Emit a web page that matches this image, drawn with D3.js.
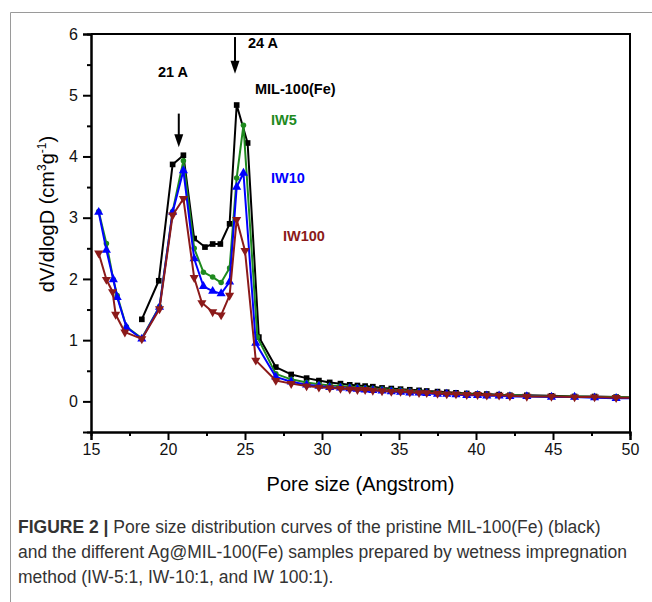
<!DOCTYPE html>
<html lang="en">
<head>
    <meta charset="UTF-8">
    <title>Pore size distribution</title>
    <script src="https://cdn.jsdelivr.net/npm/d3@7"></script>
    <style>
        body { margin: 0; background: #fff; }
        svg text { font-family: "Liberation Sans", Arial, sans-serif; }
    </style>
</head>
<body>
<div id="chart"></div>
<script>
    // tail grid shared by all curves (Angstrom)
    const tailX = [28.0, 29.0, 29.8, 30.5, 31.2, 31.8, 32.3, 32.8, 33.3, 33.9, 34.5, 35.1, 35.7, 36.3, 36.8,
        37.5, 38.1, 38.7, 39.4, 40.1, 40.7, 41.5, 42.2, 43.3, 44.9, 46.4, 47.7, 49.1, 51];

    const milX = [18.3, 19.4, 20.3, 21.0, 21.7, 22.4, 22.9, 23.4, 24.0, 24.46, 25.17, 25.9, 27.0].concat(tailX);
    const milY = [1.34, 1.97, 3.87, 4.02, 2.66, 2.52, 2.57, 2.57, 2.90, 4.84, 4.22, 1.05, 0.56,
        0.44, 0.38, 0.34, 0.31, 0.29, 0.27, 0.26, 0.25, 0.24, 0.22, 0.21, 0.20, 0.19, 0.18, 0.17,
        0.16, 0.15, 0.14, 0.13, 0.12, 0.12, 0.11, 0.10, 0.10, 0.09, 0.08, 0.08, 0.07, 0.06];

    const iw5X = [15.5, 16.0, 16.45, 16.7, 17.3, 18.3, 19.45, 20.3, 21.0, 21.7, 22.3, 22.9, 23.45, 24.0, 24.46, 24.9, 25.8, 27.0].concat(tailX);
    const iw5Y = [3.10, 2.58, 1.99, 1.73, 1.22, 1.03, 1.55, 3.10, 3.93, 2.50, 2.11, 2.03, 1.94, 2.18, 3.65, 4.51, 1.05, 0.45,
        0.36, 0.31, 0.28, 0.26, 0.25, 0.24, 0.23, 0.22, 0.21, 0.20, 0.19, 0.18, 0.17, 0.16, 0.15,
        0.14, 0.13, 0.13, 0.12, 0.11, 0.11, 0.10, 0.10, 0.09, 0.08, 0.08, 0.07, 0.07, 0.06];

    const iw10X = [15.5, 16.0, 16.45, 16.7, 17.3, 18.3, 19.45, 20.3, 21.0, 21.7, 22.3, 22.9, 23.45, 24.0, 24.46, 24.9, 25.7, 27.0].concat(tailX);
    const iw10Y = [3.09, 2.47, 1.99, 1.70, 1.21, 1.02, 1.54, 3.09, 3.77, 2.33, 1.88, 1.80, 1.76, 1.95, 3.50, 3.73, 0.95, 0.40,
        0.32, 0.27, 0.25, 0.23, 0.22, 0.21, 0.20, 0.19, 0.18, 0.17, 0.16, 0.15, 0.14, 0.14, 0.13,
        0.12, 0.12, 0.11, 0.10, 0.10, 0.09, 0.09, 0.08, 0.08, 0.07, 0.07, 0.06, 0.05, 0.05];

    const iw100X = [15.5, 16.0, 16.4, 16.6, 17.2, 18.3, 19.45, 20.3, 21.0, 21.7, 22.2, 22.9, 23.45, 24.0, 24.46, 25.0, 25.7, 27.0].concat(tailX);
    const iw100Y = [2.42, 1.99, 1.79, 1.42, 1.13, 1.02, 1.51, 3.04, 3.31, 2.02, 1.61, 1.46, 1.41, 1.73, 2.97, 2.46, 0.67, 0.34,
        0.29, 0.25, 0.23, 0.22, 0.21, 0.20, 0.19, 0.19, 0.18, 0.17, 0.16, 0.16, 0.15, 0.14, 0.14,
        0.13, 0.12, 0.12, 0.11, 0.11, 0.10, 0.10, 0.09, 0.08, 0.08, 0.07, 0.07, 0.06, 0.06];

    const xTicks = [15, 20, 25, 30, 35, 40, 45, 50];
    const yTicks = [0, 1, 2, 3, 4, 5, 6];

    const series = [
        {name: "MIL-100(Fe)", xs: milX, ys: milY, color: "#000000", shape: d3.symbolSquare, size: 32, rot: 0},
        {name: "IW5", xs: iw5X, ys: iw5Y, color: "#1f8a1f", shape: d3.symbolCircle, size: 24, rot: 0},
        {name: "IW10", xs: iw10X, ys: iw10Y, color: "#0000ff", shape: d3.symbolTriangle, size: 36, rot: 0},
        {name: "IW100", xs: iw100X, ys: iw100Y, color: "#8b1a1a", shape: d3.symbolTriangle, size: 36, rot: 180}
    ];

    const width = 652, height = 602;
    const svg = d3.select("#chart").append("svg")
        .attr("width", width)
        .attr("height", height);

    // figure frame
    svg.append("path")
        .attr("d", "M10.5,602 V12.5 H652")
        .attr("fill", "none")
        .attr("stroke", "#9a9a9a")
        .attr("stroke-width", 1);

    const x = d3.scaleLinear().domain([15, 50]).range([91, 630]);
    const y = d3.scaleLinear().domain([-0.5, 6]).range([432, 34]);

    svg.append("clipPath").attr("id", "clip")
        .append("rect")
        .attr("x", x(15)).attr("y", y(6))
        .attr("width", x(50) - x(15)).attr("height", y(-0.5) - y(6));

    const plot = svg.append("g").attr("clip-path", "url(#clip)");
    const line = d3.line().x(d => x(d[0])).y(d => y(d[1]));

    series.forEach(s => {
        const pts = s.xs.map((v, i) => [v, s.ys[i]]);
        plot.append("path")
            .datum(pts)
            .attr("fill", "none")
            .attr("stroke", s.color)
            .attr("stroke-width", 2)
            .attr("stroke-linejoin", "round")
            .attr("d", line);
        plot.append("g")
            .selectAll("path")
            .data(pts.filter(p => p[0] < 50))
            .enter().append("path")
            .attr("d", d3.symbol().type(s.shape).size(s.size))
            .attr("transform", d => `translate(${x(d[0])},${y(d[1])}) rotate(${s.rot})`)
            .attr("fill", s.color);
    });

    // axes
    svg.append("g")
        .attr("transform", `translate(0,${y(-0.5)})`)
        .call(d3.axisBottom(x).tickValues(xTicks).tickSize(8).tickPadding(4).tickFormat(d3.format("d")));
    svg.append("g")
        .attr("transform", `translate(0,${y(-0.5)})`)
        .call(d3.axisBottom(x).tickValues(d3.range(17.5, 50, 5)).tickSize(4).tickFormat(""));

    svg.append("g")
        .attr("transform", `translate(${x(15)},0)`)
        .call(d3.axisLeft(y).tickValues(yTicks).tickSize(8).tickPadding(5).tickFormat(d3.format("d")));
    svg.append("g")
        .attr("transform", `translate(${x(15)},0)`)
        .call(d3.axisLeft(y).tickValues(d3.range(0.5, 6, 1)).tickSize(4).tickFormat(""));

    svg.selectAll(".domain").attr("stroke-width", 2);
    svg.selectAll(".tick line").attr("stroke-width", 2);
    svg.selectAll(".tick text")
        .attr("font-size", 16)
        .attr("fill", "#111")
        .style("font-family", "Liberation Sans, Arial, sans-serif");

    // top and right frame
    svg.append("path")
        .attr("d", `M${x(15)},${y(6)} H${x(50)} V${y(-0.5)}`)
        .attr("fill", "none")
        .attr("stroke", "#000")
        .attr("stroke-width", 2);

    // axis titles
    svg.append("text")
        .attr("x", (x(15) + x(50)) / 2)
        .attr("y", 491)
        .attr("text-anchor", "middle")
        .attr("font-size", 20)
        .text("Pore size (Angstrom)");

    const yt = svg.append("text")
        .attr("transform", "translate(54,214) rotate(-90)")
        .attr("text-anchor", "middle")
        .attr("font-size", 20);
    yt.append("tspan").text("dV/dlogD (cm");
    yt.append("tspan").attr("dy", -8).attr("font-size", 12).text("3");
    yt.append("tspan").attr("dy", 8).text("g");
    yt.append("tspan").attr("dy", -8).attr("font-size", 12).text("-1");
    yt.append("tspan").attr("dy", 8).text(")");

    // peak arrows and labels
    const arrows = [
        {px: 20.7, from: 4.7, to: 4.15, label: "21 A", lx: 19.35, ly: 5.3},
        {px: 24.35, from: 5.95, to: 5.35, label: "24 A", lx: 25.19, ly: 5.77}
    ];
    arrows.forEach(a => {
        svg.append("line")
            .attr("x1", x(a.px)).attr("x2", x(a.px))
            .attr("y1", y(a.from)).attr("y2", y(a.to) - 10)
            .attr("stroke", "#000").attr("stroke-width", 2);
        svg.append("path")
            .attr("d", `M${x(a.px) - 4.5},${y(a.to) - 13} L${x(a.px) + 4.5},${y(a.to) - 13} L${x(a.px)},${y(a.to)} Z`)
            .attr("fill", "#000");
        svg.append("text")
            .attr("x", x(a.lx)).attr("y", y(a.ly))
            .attr("font-size", 14.5).attr("font-weight", "bold")
            .text(a.label);
    });

    const labels = [
        {text: "MIL-100(Fe)", lx: 25.65, ly: 5.02, color: "#000000"},
        {text: "IW5", lx: 26.69, ly: 4.51, color: "#1f8a1f"},
        {text: "IW10", lx: 26.69, ly: 3.57, color: "#0000ff"},
        {text: "IW100", lx: 27.47, ly: 2.62, color: "#8b1a1a"}
    ];
    labels.forEach(l => {
        svg.append("text")
            .attr("x", x(l.lx)).attr("y", y(l.ly))
            .attr("font-size", 14.5).attr("font-weight", "bold")
            .attr("fill", l.color)
            .text(l.text);
    });

    // caption
    const caption = svg.append("g").attr("font-size", 17.5).attr("fill", "#333");
    const c1 = caption.append("text").attr("x", 18).attr("y", 533);
    c1.append("tspan").attr("font-weight", "bold").text("FIGURE 2 | ");
    c1.append("tspan").text("Pore size distribution curves of the pristine MIL-100(Fe) (black)");
    caption.append("text").attr("x", 18).attr("y", 558)
        .text("and the different Ag@MIL-100(Fe) samples prepared by wetness impregnation");
    caption.append("text").attr("x", 18).attr("y", 583)
        .text("method (IW-5:1, IW-10:1, and IW 100:1).");
</script>
</body>
</html>
